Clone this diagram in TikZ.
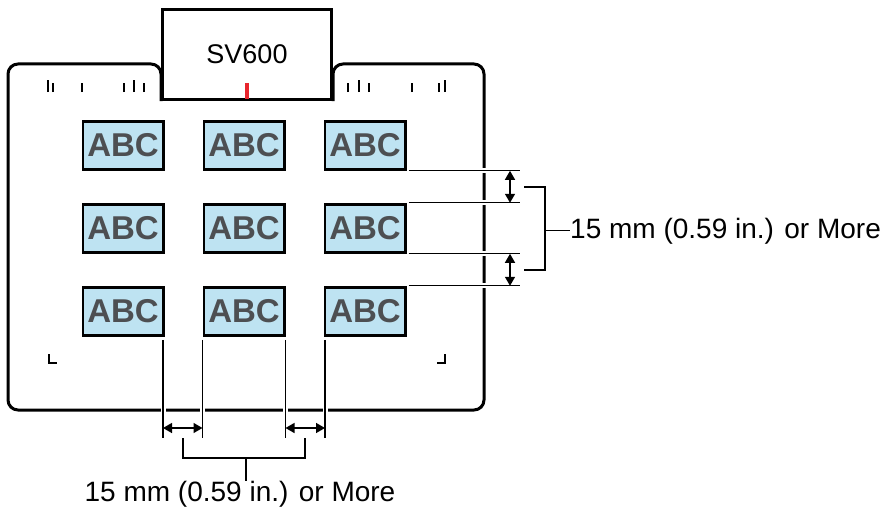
\documentclass[tikz,border=0pt]{standalone}
\usepackage{fontspec}
\setmainfont{Liberation Sans}
\usepackage{tikz}
\usetikzlibrary{positioning, arrows.meta}
\definecolor{docblue}{HTML}{BEE3F2}
\definecolor{abcgray}{HTML}{4D4F52}
\definecolor{markred}{HTML}{E8262D}

\begin{document}
\begin{tikzpicture}[x=1pt, y=-1pt, node distance=0pt]
    \tikzset{doc/.style={draw, line width=2.8pt, fill=docblue, text=abcgray,
        minimum width=80.2pt, minimum height=48.2pt, inner sep=0pt,
        font=\fontsize{33}{36}\selectfont\bfseries},
      ext/.style={line width=1.2pt, preaction={draw=white, line width=5pt}},
      dim/.style={line width=1.4pt, {Triangle[length=9pt,width=10pt]}-{Triangle[length=9pt,width=10pt]}},
      brk/.style={line width=1.2pt},
      lbl/.style={inner sep=0pt, font=\fontsize{28}{32}\selectfont},
      tick/.style={line width=2.2pt}}
    \useasboundingbox (0,0) rectangle (883,511);
    \draw[line width=3pt, rounded corners=10pt]
      (161,101) -- (161,64) -- (8,64) -- (8,410) -- (484,410) -- (484,64) -- (333,64) -- (333,101);
    \foreach \x/\h in {48/12, 53/9, 82/9, 124/9, 134/12, 144/9, 348/9, 359/12, 369/9, 412/9, 439/9, 445/12}
      \draw[tick] (\x,92) -- ++(0,-\h);
    \draw[tick] (49,354) |- (57,363);
    \draw[tick] (437,363) -| (445,354);
    \node[draw, line width=3pt, fill=white, minimum width=169pt, minimum height=90pt,
      inner sep=0pt, font=\fontsize{27}{32}\selectfont] (sv) at (247,54.5) {SV600};
    \draw[markred, line width=4.3pt] ([yshift=2pt]sv.south) -- ++(0,-16);
    \node[doc] (d11) at (123,145.3) {ABC};
    \node[doc, right=38pt of d11] (d12) {ABC};
    \node[doc, right=38pt of d12] (d13) {ABC};
    \node[doc, below=32pt of d11] (d21) {ABC};
    \node[doc, right=38pt of d21] (d22) {ABC};
    \node[doc, right=38pt of d22] (d23) {ABC};
    \node[doc, below=32pt of d21] (d31) {ABC};
    \node[doc, right=38pt of d31] (d32) {ABC};
    \node[doc, right=38pt of d32] (d33) {ABC};
    \coordinate (xr) at (520,0);
    \coordinate (xa) at (510,0);
    \draw[ext] ([xshift=2pt]d13.south east) -- (d13.south east -| xr);
    \draw[ext] ([xshift=2pt]d23.north east) -- (d23.north east -| xr);
    \draw[ext] ([xshift=2pt]d23.south east) -- (d23.south east -| xr);
    \draw[ext] ([xshift=2pt]d33.north east) -- (d33.north east -| xr);
    \draw[dim] (d13.south east -| xa) -- (d23.north east -| xa);
    \draw[dim] (d23.south east -| xa) -- (d33.north east -| xa);
    \coordinate (yb) at (0,438);
    \coordinate (ya) at (0,428);
    \draw[ext] ([xshift=-1.5pt, yshift=-3pt]d31.south east) -- ([xshift=-1.5pt]d31.south east |- yb);
    \draw[ext] ([yshift=-3pt]d32.south west) -- (d32.south west |- yb);
    \draw[ext] ([yshift=-3pt]d32.south east) -- (d32.south east |- yb);
    \draw[ext] ([xshift=1.5pt, yshift=-3pt]d33.south west) -- ([xshift=1.5pt]d33.south west |- yb);
    \draw[dim] ([xshift=-1.5pt]d31.south east |- ya) -- (d32.south west |- ya);
    \draw[dim] (d32.south east |- ya) -- ([xshift=1.5pt]d33.south west |- ya);
    \node[lbl, anchor=base west] (lr) at (570,238) {15 mm (0.59 in.) or More};
    \node[lbl, anchor=base] (lb) at (240,501) {15 mm (0.59 in.) or More};
    \coordinate (bt) at (524,187);
    \coordinate (bb) at (524,270);
    \coordinate (bm) at (545,0);
    \draw[brk] (bt) -| (bm |- bb) -- (bb);
    \draw[brk] (lr.west -| bm) -- (lr.west);
    \coordinate (bl) at (183,438);
    \coordinate (br) at (305,438);
    \coordinate (bs) at (246,458);
    \draw[brk] (bl) |- (bs) -| (br);
    \draw[brk] (bs) -- (bs |- lb.north);
  \end{tikzpicture}
\end{document}
